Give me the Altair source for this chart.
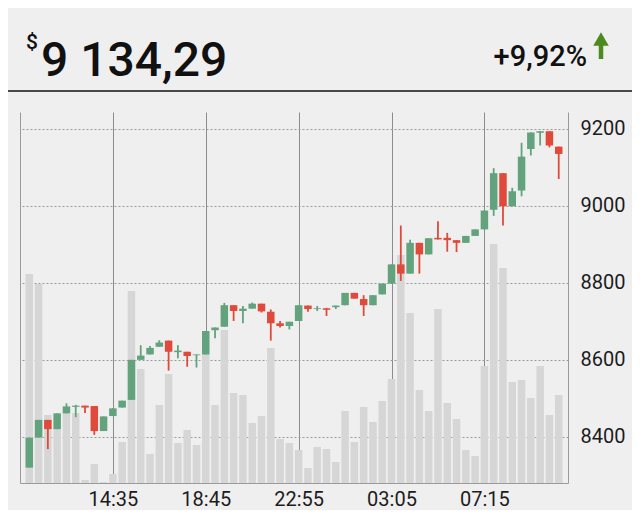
import altair as alt
import pandas as pd

times = [
    "2020-05-10T10:50", "2020-05-10T11:15", "2020-05-10T11:40", "2020-05-10T12:05",
    "2020-05-10T12:30", "2020-05-10T12:55", "2020-05-10T13:20", "2020-05-10T13:45",
    "2020-05-10T14:10", "2020-05-10T14:35", "2020-05-10T15:00", "2020-05-10T15:25",
    "2020-05-10T15:50", "2020-05-10T16:15", "2020-05-10T16:40", "2020-05-10T17:05",
    "2020-05-10T17:30", "2020-05-10T17:55", "2020-05-10T18:20", "2020-05-10T18:45",
    "2020-05-10T19:10", "2020-05-10T19:35", "2020-05-10T20:00", "2020-05-10T20:25",
    "2020-05-10T20:50", "2020-05-10T21:15", "2020-05-10T21:40", "2020-05-10T22:05",
    "2020-05-10T22:30", "2020-05-10T22:55", "2020-05-10T23:20", "2020-05-10T23:45",
    "2020-05-11T00:10", "2020-05-11T00:35", "2020-05-11T01:00", "2020-05-11T01:25",
    "2020-05-11T01:50", "2020-05-11T02:15", "2020-05-11T02:40", "2020-05-11T03:05",
    "2020-05-11T03:30", "2020-05-11T03:55", "2020-05-11T04:20", "2020-05-11T04:45",
    "2020-05-11T05:10", "2020-05-11T05:35", "2020-05-11T06:00", "2020-05-11T06:25",
    "2020-05-11T06:50", "2020-05-11T07:15", "2020-05-11T07:40", "2020-05-11T08:05",
    "2020-05-11T08:30", "2020-05-11T08:55", "2020-05-11T09:20", "2020-05-11T09:45",
    "2020-05-11T10:10", "2020-05-11T10:35",
]
open_ = [8320, 8398, 8444, 8420, 8461, 8478, 8481, 8480, 8415, 8454,
         8476, 8496, 8600, 8614, 8634, 8650, 8620, 8621, 8612, 8614,
         8677, 8686, 8742, 8727, 8733, 8746, 8725, 8695, 8688, 8701,
         8741, 8732, 8734, 8737, 8742, 8774, 8758, 8742, 8770, 8798,
         8848, 8824, 8904, 8874, 8917, 8917, 8911, 8904, 8922, 8939,
         8990, 9085, 8999, 9040, 9148, 9190, 9194, 9154]
close = [8398, 8444, 8420, 8461, 8479, 8481, 8476, 8415, 8453, 8474,
         8494, 8600, 8611, 8631, 8645, 8621, 8624, 8610, 8614, 8675,
         8684, 8742, 8727, 8733, 8746, 8726, 8695, 8688, 8699, 8742,
         8732, 8734, 8730, 8741, 8774, 8759, 8742, 8768, 8798, 8848,
         8824, 8904, 8874, 8916, 8913, 8911, 8904, 8922, 8939, 8988,
         9085, 8999, 9038, 9128, 9191, 9194, 9157, 9135]
high = [8398, 8444, 8444, 8461, 8487, 8483, 8481, 8480, 8453, 8474,
        8494, 8600, 8638, 8636, 8651, 8650, 8638, 8621, 8614, 8675,
        8684, 8748, 8742, 8740, 8749, 8746, 8731, 8701, 8699, 8742,
        8741, 8740, 8735, 8741, 8774, 8774, 8768, 8768, 8798, 8848,
        8949, 8912, 8904, 8916, 8960, 8930, 8911, 8922, 8939, 8988,
        9098, 9085, 9047, 9164, 9191, 9194, 9194, 9154]
low = [8320, 8398, 8368, 8420, 8461, 8451, 8462, 8405, 8415, 8454,
       8476, 8496, 8600, 8614, 8634, 8572, 8604, 8582, 8580, 8614,
       8656, 8686, 8701, 8695, 8733, 8723, 8650, 8684, 8679, 8701,
       8725, 8727, 8714, 8732, 8742, 8759, 8714, 8742, 8770, 8798,
       8805, 8824, 8824, 8874, 8913, 8881, 8880, 8904, 8922, 8939,
       8974, 8949, 8999, 9025, 9131, 9157, 9152, 9070]
volume = [209, 199, 68, 55, 70, 70, 3, 19, 1, 9,
          41, 192, 114, 29, 78, 109, 40, 53, 38, 129,
          78, 153, 90, 88, 60, 67, 135, 44, 40, 33,
          15, 36, 34, 21, 72, 41, 76, 61, 82, 104,
          228, 170, 93, 72, 174, 80, 64, 33, 27, 117,
          239, 215, 101, 103, 85, 117, 68, 88]

price_ticks = [8400, 8600, 8800, 9000, 9200]
time_ticks = [(10, 14, 35), (10, 18, 45), (10, 22, 55), (11, 3, 5), (11, 7, 15)]

header_price = "9 134,29"
header_currency = "$"
header_change = "+9,92%"

GREEN = "#62a37e"
RED = "#e04a3a"
VOL = "#d6d6d6"
BG = "#efefef"
FONT = "Roboto"

df = pd.DataFrame({"time": times, "open": open_, "close": close,
                   "high": high, "low": low, "volume": volume})

x_scale = alt.Scale(domain=[alt.DateTime(year=2020, month=5, date=10, hours=10, minutes=25),
                            alt.DateTime(year=2020, month=5, date=11, hours=11, minutes=0)],
                    nice=False, padding=0)
x_axis = alt.Axis(values=[alt.DateTime(year=2020, month=5, date=d, hours=h, minutes=m)
                          for d, h, m in time_ticks],
                  format="%H:%M", title=None, grid=True, gridColor="#8c8c8c",
                  gridWidth=1, ticks=False, domain=True, domainColor="#9a9a9a",
                  labelFontSize=20, labelColor="#1c1c1c", labelFont=FONT,
                  labelPadding=6, orient="bottom")
x_enc = alt.X("time:T", scale=x_scale, axis=x_axis)

base = alt.Chart(df)

vol = base.mark_bar(size=7.5, color=VOL).encode(
    x=x_enc,
    y=alt.Y("volume:Q", scale=alt.Scale(domain=[0, 371], nice=False),
            axis=alt.Axis(orient="left", labels=False, ticks=False, grid=False,
                          domain=True, domainColor="#9a9a9a", title=None)),
)

color_cond = alt.condition("datum.close >= datum.open", alt.value(GREEN), alt.value(RED))
y_price = alt.Y("low:Q", scale=alt.Scale(domain=[8280, 9244], nice=False, zero=False),
                axis=alt.Axis(orient="right", values=price_ticks, format="d", title=None, grid=True,
                              gridColor="#9a9a9a", gridDash=[2, 2], gridWidth=1,
                              ticks=False, domain=True, domainColor="#9a9a9a",
                              labelFontSize=20, labelColor="#1c1c1c", labelFont=FONT,
                              labelPadding=12, labelBaseline="middle"))

wick = base.mark_rule(strokeWidth=1.8).encode(
    x=x_enc, y=y_price, y2="high:Q", color=color_cond)

body = base.mark_bar(size=7.5).encode(
    x=x_enc, y=alt.Y("open:Q"), y2="close:Q", color=color_cond)

price = alt.layer(wick, body)

one = pd.DataFrame({"a": [0]})
cur_txt = alt.Chart(one).mark_text(text=header_currency, font=FONT, fontSize=21,
                                   fontWeight=500, align="left", color="#111111").encode(
    x=alt.value(6), y=alt.value(-69))
price_txt = alt.Chart(one).mark_text(text=header_price, font=FONT, fontSize=48,
                                     fontWeight=500, align="left", color="#111111").encode(
    x=alt.value(21), y=alt.value(-50))
change_txt = alt.Chart(one).mark_text(text=header_change, font=FONT, fontSize=29,
                                      fontWeight=500, align="right", color="#111111").encode(
    x=alt.value(567), y=alt.value(-55))
arrow_head = alt.Chart(one).mark_point(shape="triangle-up", filled=True, opacity=1,
                                       color="#4c8a1f", size=240).encode(
    x=alt.value(581), y=alt.value(-73))
arrow_stem = alt.Chart(one).mark_rule(color="#4c8a1f", strokeWidth=4.5).encode(
    x=alt.value(581), y=alt.value(-70), y2=alt.value(-53))
sep = alt.Chart(one).mark_rule(color="#111111", strokeWidth=1.5).encode(
    x=alt.value(-20), x2=alt.value(620), y=alt.value(-21))

chart = alt.layer(vol, price, cur_txt, price_txt, change_txt, arrow_head, arrow_stem, sep).resolve_scale(
    y="independent").properties(
    width=548, height=371,
    autosize=alt.AutoSizeParams(type="none"),
    padding={"left": 12, "top": 104, "right": 64, "bottom": 27},
    background=BG,
).configure_view(stroke=None, fill=BG)

chart.save("out.html", embed_options={"renderer": "svg", "actions": False})
